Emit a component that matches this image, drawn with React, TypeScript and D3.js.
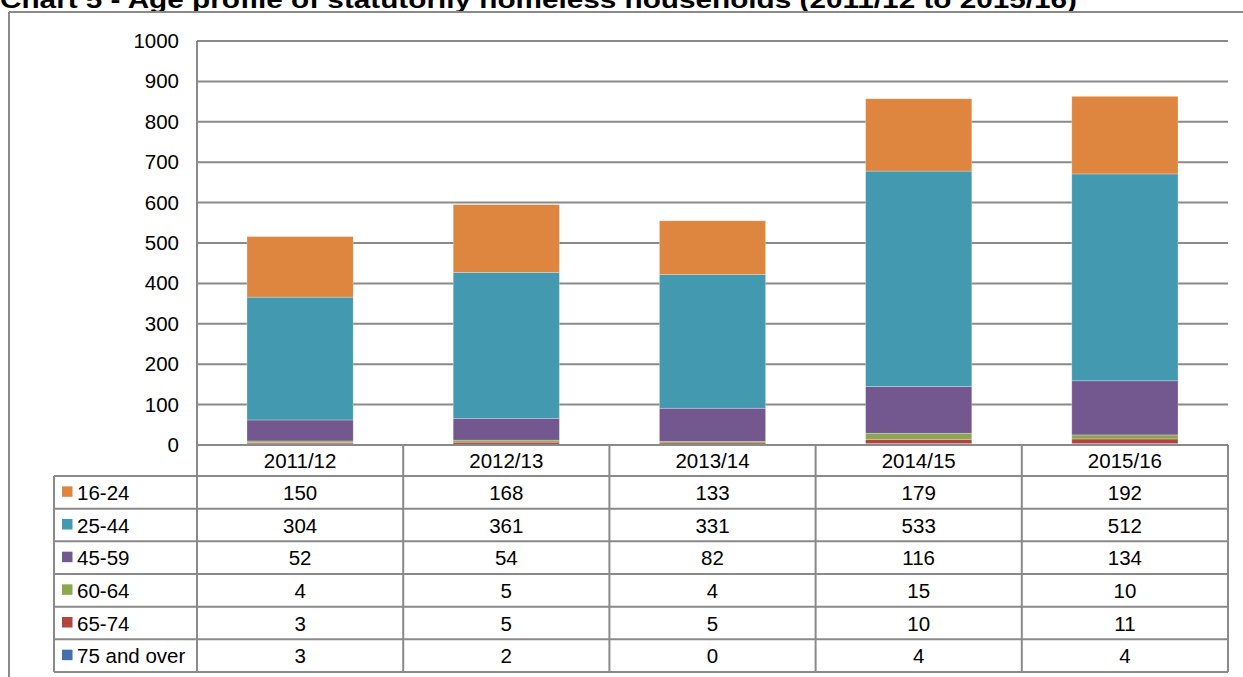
import React from "react";
import * as d3 from "d3";

const categories = ["2011/12", "2012/13", "2013/14", "2014/15", "2015/16"];
const ageGroups = ["16-24", "25-44", "45-59", "60-64", "65-74", "75 and over"];
const v16_24 = [150, 168, 133, 179, 192];
const v25_44 = [304, 361, 331, 533, 512];
const v45_59 = [52, 54, 82, 116, 134];
const v60_64 = [4, 5, 4, 15, 10];
const v65_74 = [3, 5, 5, 10, 11];
const v75over = [3, 2, 0, 4, 4];
const yTicks = [0, 100, 200, 300, 400, 500, 600, 700, 800, 900, 1000];
const colors: Record<string, string> = {
  "16-24": "#DE853F",
  "25-44": "#4299B0",
  "45-59": "#72588F",
  "60-64": "#8CA84F",
  "65-74": "#B2443F",
  "75 and over": "#4670A9",
};
const seriesValues: Record<string, number[]> = {
  "16-24": v16_24,
  "25-44": v25_44,
  "45-59": v45_59,
  "60-64": v60_64,
  "65-74": v65_74,
  "75 and over": v75over,
};
const title = "Chart 5 - Age profile of statutorily homeless households (2011/12 to 2015/16)";

export default function App() {
  const W = 1243, H = 677;
  const left = 197, right = 1228, top = 41, bottom = 445;
  const tableLeft = 54;
  const headerBottom = 476;
  const tableBottom = 672;
  const rowH = (tableBottom - headerBottom) / ageGroups.length;
  const font = "'Liberation Sans', Arial, sans-serif";
  const grid = "#8A8A8A";

  const x = d3.scaleBand<string>().domain(categories).range([left, right]).paddingInner(0.485).paddingOuter(0.2425);
  const xCol = d3.scaleBand<string>().domain(categories).range([left, right]);
  const y = d3.scaleLinear().domain([0, 1000]).range([bottom, top]);

  const rows = categories.map((c, i) => {
    const o: any = { cat: c };
    ageGroups.forEach((g) => (o[g] = seriesValues[g][i]));
    return o;
  });
  const stackKeys = [...ageGroups].reverse();
  const stacked = d3.stack<any>().keys(stackKeys)(rows);

  return (
    <svg width={W} height={H} style={{ position: "absolute", left: 0, top: 0, background: "#fff" }} fontFamily={font}>
      <text x={0} y={8} fontSize={23} fontWeight="bold" textLength={1077} lengthAdjust="spacingAndGlyphs">{title}</text>
      {/* outer frame */}
      <line x1={9} x2={W} y1={12} y2={12} stroke={grid} strokeWidth={2} />
      <line x1={9} x2={9} y1={12} y2={H} stroke={grid} strokeWidth={2} />
      {/* gridlines */}
      {yTicks.filter((t) => t > 0).map((t) => (
        <line key={t} x1={left} x2={right} y1={y(t)} y2={y(t)} stroke={grid} strokeWidth={2} />
      ))}
      {/* y tick labels */}
      {yTicks.map((t) => (
        <text key={t} x={179} y={y(t) + 7} fontSize={20.5} textAnchor="end" fill="#000">{t}</text>
      ))}
      {/* bars */}
      {stacked.map((s) => (
        <g key={s.key} fill={colors[s.key]}>
          {s.map((d, i) => (
            d[1] - d[0] > 0 ? (
              <rect key={i} x={x(categories[i])} width={x.bandwidth()} y={y(d[1])} height={y(d[0]) - y(d[1])}
                stroke="rgba(255,255,255,0.35)" strokeWidth={0.75} />
            ) : null
          ))}
        </g>
      ))}
      {/* table */}
      <line x1={left} x2={left} y1={top} y2={tableBottom} stroke={grid} strokeWidth={2} />
      <line x1={left} x2={right} y1={bottom} y2={bottom} stroke={grid} strokeWidth={2} />
      {categories.map((c) => (
        <line key={c} x1={xCol(c)! + xCol.bandwidth()} x2={xCol(c)! + xCol.bandwidth()} y1={bottom} y2={tableBottom} stroke={grid} strokeWidth={2} />
      ))}
      <line x1={tableLeft} x2={tableLeft} y1={headerBottom} y2={tableBottom} stroke={grid} strokeWidth={2} />
      {ageGroups.map((g, r) => (
        <line key={g} x1={tableLeft} x2={right} y1={headerBottom + r * rowH} y2={headerBottom + r * rowH} stroke={grid} strokeWidth={2} />
      ))}
      <line x1={tableLeft} x2={right} y1={tableBottom} y2={tableBottom} stroke={grid} strokeWidth={2} />
      {categories.map((c) => (
        <text key={c} x={xCol(c)! + xCol.bandwidth() / 2} y={(bottom + headerBottom) / 2 + 7.5} fontSize={20.5} textAnchor="middle">{c}</text>
      ))}
      {ageGroups.map((g, r) => {
        const cy = headerBottom + r * rowH + rowH / 2;
        return (
          <g key={g}>
            <rect x={62} y={cy - 6} width={10.5} height={10.5} fill={colors[g]} />
            <text x={77} y={cy + 7.5} fontSize={20.5}>{g}</text>
            {categories.map((c, i) => (
              <text key={c} x={xCol(c)! + xCol.bandwidth() / 2} y={cy + 7.5} fontSize={20.5} textAnchor="middle">{seriesValues[g][i]}</text>
            ))}
          </g>
        );
      })}
    </svg>
  );
}
